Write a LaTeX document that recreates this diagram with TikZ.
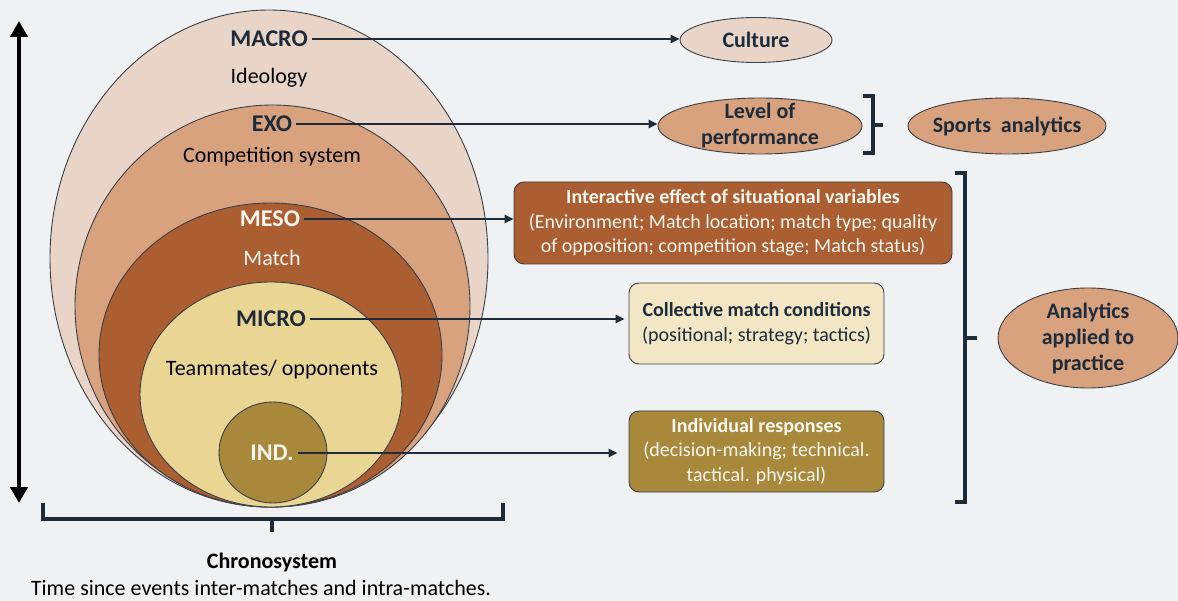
\documentclass[tikz,border=0pt]{standalone}
\usepackage{fontspec}
\setmainfont{Carlito}
\usetikzlibrary{arrows.meta,positioning,shapes}
\definecolor{bg}{HTML}{EFF1F3}
\definecolor{macroc}{HTML}{E9D5C7}
\definecolor{exoc}{HTML}{D8A27E}
\definecolor{mesoc}{HTML}{AB5E31}
\definecolor{microc}{HTML}{EAD694}
\definecolor{indc}{HTML}{A8883A}
\definecolor{creamc}{HTML}{F3E6C4}
\definecolor{ink}{HTML}{1E2B3A}
\definecolor{rim}{HTML}{3A3F47}
\definecolor{paper}{HTML}{FAF6F0}

\begin{document}
\begin{tikzpicture}[x=1pt,y=-1pt,
	lvl/.style={font=\fontsize{24}{28}\selectfont\bfseries, text=ink, inner sep=4pt},
	sub/.style={font=\fontsize{22}{26}\selectfont},
	link/.style={-{Triangle[length=9pt,width=8pt]}, line width=2.6pt, ink},
	layer/.style={draw=rim, line width=0.9pt},
	bubble/.style={ellipse, draw=rim, line width=0.9pt, inner sep=0pt},
	btext/.style={font=\fontsize{22}{26}\selectfont\bfseries, text=ink, align=center},
	card/.style={rectangle, rounded corners=10pt, draw=rim, line width=0.9pt, align=center, font=\fontsize{20}{24.5}\selectfont, inner sep=0pt},
	bracket/.style={ink, line width=3.1pt}]

	% Background
	\fill[bg] (0,0) rectangle (1178,601);
	\useasboundingbox (0,0) rectangle (1178,601);

	% Nested systems
	\filldraw[fill=macroc, layer] (269,258.5) ellipse [x radius=219, y radius=248.5];
	\filldraw[fill=exoc, layer] (272.5,306) ellipse [x radius=197.5, y radius=201];
	\filldraw[fill=mesoc, layer] (270.5,355) ellipse [x radius=171.5, y radius=152];
	\filldraw[fill=microc, layer] (271,394.5) ellipse [x radius=131, y radius=112.5];
	\filldraw[fill=indc, layer] (273,452.5) ellipse [x radius=54, y radius=50.5];

	% Level names
	\node[lvl] (macro) at (269,39) {MACRO};
	\node[sub] at (269,78) {Ideology};
	\node[lvl] (exo) at (272,124) {EXO};
	\node[sub] at (272,157) {Competition system};
	\node[lvl, text=paper] (meso) at (270,219) {MESO};
	\node[sub, text=paper] at (272,258) {Match};
	\node[lvl] (micro) at (271,319) {MICRO};
	\node[sub] at (272,370) {Teammates/ opponents};
	\node[lvl, text=paper] (ind) at (272,453) {IND.};

	% Outcomes
	\node[bubble, fill=macroc, minimum width=152pt, minimum height=45pt] (culture) at (756,40) {};
	\node[btext] at (culture) {Culture};
	\node[bubble, fill=exoc, minimum width=204pt, minimum height=56pt] (level) at (760,126) {};
	\node[btext] at (level) {Level of\\performance};
	\node[bubble, fill=exoc, minimum width=198pt, minimum height=56pt] (sports) at (1007,126) {};
	\node[btext] at (sports) {Sports\ \ analytics};
	\node[card, fill=mesoc, text=paper, minimum width=438pt, minimum height=82pt] (situ) at (733,223)
		{\textbf{Interactive effect of situational variables}\\(Environment; Match location; match type; quality\\of opposition; competition stage; Match status)};
	\node[card, fill=creamc, text=ink, minimum width=255pt, minimum height=81pt] (coll) at (756.5,323.5)
		{\textbf{Collective match conditions}\\(positional; strategy; tactics)};
	\node[card, fill=indc, text=paper, minimum width=255pt, minimum height=81pt] (indiv) at (756.5,451.5)
		{\textbf{Individual responses}\\(decision-making; technical.\\tactical. physical)};
	\node[bubble, fill=exoc, minimum width=180pt, minimum height=100pt] (practice) at (1088,338) {};
	\node[btext] at (practice) {Analytics\\applied to\\practice};

	% Arrows
	\draw[link] (macro.east) -- (macro.east -| culture.west);
	\draw[link] (exo.east) -- (exo.east -| level.west);
	\draw[link] (meso.east) -- (meso.east -| situ.west);
	\draw[link, shorten >=4pt] (micro.east) -- (micro.east -| coll.west);
	\draw[link, shorten >=11pt] (ind.east) -- (ind.east -| indiv.west);

	% Brackets
	\draw[bracket] (863,96) -- (873,96) -- (873,153) -- (863,153);
	\draw[bracket] (873,125) -- (883,125);
	\draw[bracket] (955,173) -- (965,173) -- (965,502) -- (955,502);
	\draw[bracket] (965,338) -- (977,338);
	\draw[bracket] (43,503) -- (43,519) -- (503,519) -- (503,503);
	\draw[bracket] (272,519) -- (272,532);

	% Time axis
	\coordinate (ttop) at (19,21);
	\coordinate (tbot) at (19,503);
	\draw[{Triangle[length=16pt,width=17pt]}-{Triangle[length=16pt,width=17pt]}, line width=4pt] (ttop) -- (tbot);
	\node[font=\fontsize{22}{26}\selectfont\bfseries] (chrono) at (272,563) {Chronosystem};
	\node[sub] (since) at (261,588) {Time since events inter-matches and intra-matches.};
\end{tikzpicture}
\end{document}
